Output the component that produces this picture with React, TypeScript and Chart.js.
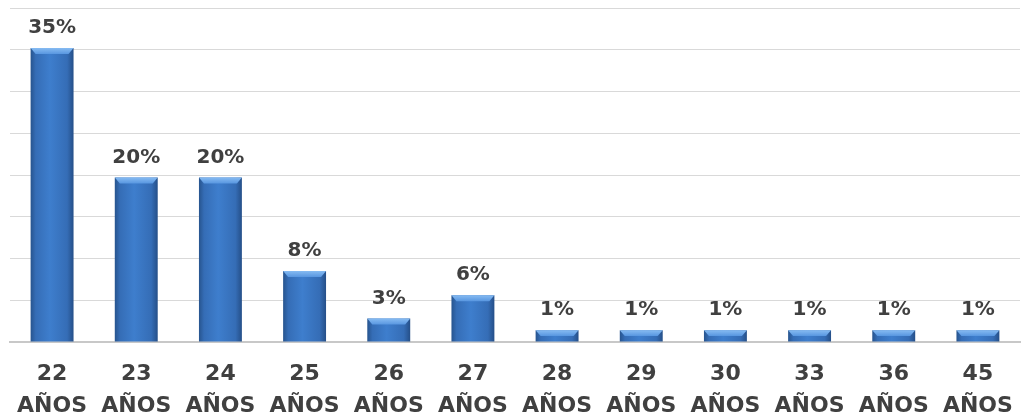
import React, { useEffect, useRef } from "react";
import { Chart, registerables } from "chart.js";

Chart.register(...registerables);

const ages = ["22", "23", "24", "25", "26", "27", "28", "29", "30", "33", "36", "45"];
const unitLabel = "AÑOS";
const values = [35.2, 19.7, 19.7, 8.5, 2.8, 5.6, 1.4, 1.4, 1.4, 1.4, 1.4, 1.4];
const valueLabels = ["35%", "20%", "20%", "8%", "3%", "6%", "1%", "1%", "1%", "1%", "1%", "1%"];
const yTicks = [0, 5, 10, 15, 20, 25, 30, 35, 40];

const BAR_PCT = 0.51;
const FONT = "'DejaVu Sans', sans-serif";

const valueLabelPlugin = {
  id: "valueLabels",
  afterDatasetsDraw(chart: any) {
    const c = chart.ctx;
    const meta = chart.getDatasetMeta(0);
    c.save();
    meta.data.forEach((bar: any, i: number) => {
      const left = bar.x - bar.width / 2;
      const right = bar.x + bar.width / 2;
      const top = bar.y;
      const bev = Math.min(6, (bar.base - bar.y) / 2);
      const g = c.createLinearGradient(0, top, 0, top + bev);
      g.addColorStop(0, "#86bbf2");
      g.addColorStop(1, "#5896e0");
      c.beginPath();
      c.moveTo(left, top);
      c.lineTo(right, top);
      c.lineTo(right - 5, top + bev);
      c.lineTo(left + 5, top + bev);
      c.closePath();
      c.fillStyle = g;
      c.fill();
      c.fillStyle = "#404040";
      c.font = "bold 20px " + FONT;
      c.textAlign = "center";
      c.textBaseline = "alphabetic";
      c.fillText(valueLabels[i], bar.x, top - 15);
    });
    c.restore();
  },
};

export default function App() {
  const ref = useRef<HTMLCanvasElement>(null);
  useEffect(() => {
    document.body.style.margin = "0";
    const canvas = ref.current!;
    const chart = new Chart(canvas, {
      type: "bar",
      data: {
        labels: ages.map((a) => [a, unitLabel]),
        datasets: [
          {
            data: values,
            barPercentage: BAR_PCT,
            categoryPercentage: 1,
            borderWidth: 0,
            backgroundColor: (ctx: any) => {
              const ch = ctx.chart;
              const xs = ch.scales && ch.scales.x;
              if (!ch.chartArea || !xs) return "#3a74c2";
              const cx = xs.getPixelForValue(ctx.dataIndex);
              const w = (ch.chartArea.width / ages.length) * BAR_PCT;
              const g = ch.ctx.createLinearGradient(cx - w / 2, 0, cx + w / 2, 0);
              g.addColorStop(0, "#27548e");
              g.addColorStop(0.12, "#356db6");
              g.addColorStop(0.45, "#3e7ecd");
              g.addColorStop(0.85, "#356db6");
              g.addColorStop(1, "#254f88");
              return g;
            },
          },
        ],
      },
      options: {
        animation: false,
        responsive: false,
        layout: { padding: { left: 10, right: 2, top: 8, bottom: 0 } },
        plugins: { legend: { display: false }, tooltip: { enabled: false } },
        scales: {
          x: {
            grid: { display: false, drawTicks: false },
            border: { display: true, color: "#c8c8c8", width: 2 },
            ticks: {
              color: "#404040",
              padding: 16,
              font: { family: FONT, size: 22, weight: "bold", lineHeight: 1.45 },
              maxRotation: 0,
              autoSkip: false,
            },
            afterFit: (axis: any) => {
              axis.height = 74;
              axis.paddingLeft = 0;
              axis.paddingRight = 0;
            },
          },
          y: {
            min: 0,
            max: 40,
            afterBuildTicks: (axis: any) => {
              axis.ticks = yTicks.map((v) => ({ value: v }));
            },
            afterFit: (axis: any) => {
              axis.width = 0;
            },
            ticks: { display: false },
            border: { display: false },
            grid: { color: "#d9d9d9", lineWidth: 1, drawTicks: false },
          },
        },
      },
      plugins: [valueLabelPlugin],
    });
    return () => chart.destroy();
  }, []);
  return (
    <div style={{ width: 1022, height: 416 }}>
      <canvas ref={ref} width={1022} height={416} style={{ display: "block" }} />
    </div>
  );
}
